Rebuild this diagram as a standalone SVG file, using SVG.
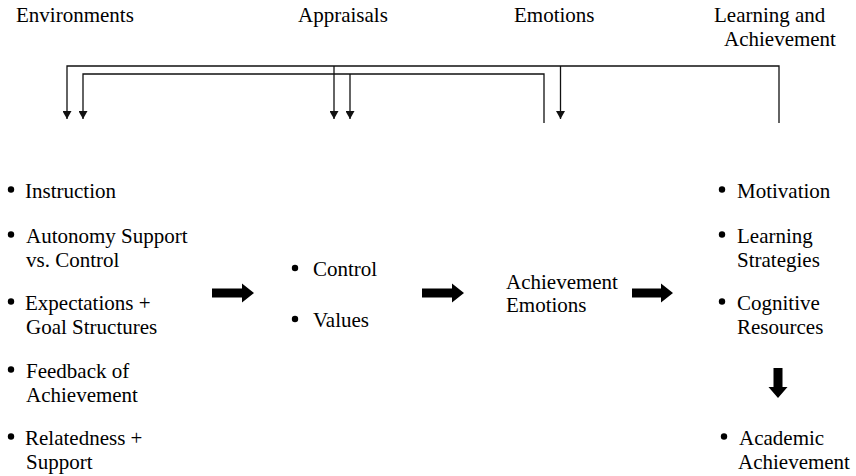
<svg xmlns="http://www.w3.org/2000/svg" width="856" height="476" viewBox="0 0 856 476" font-family="Liberation Serif, DejaVu Serif, serif" font-size="21">
<style>
text{fill:#000}
.fb{fill:none;stroke:#111;stroke-width:1.3}
.blk{fill:#000}
</style>
<defs>
<marker id="ah" markerUnits="userSpaceOnUse" markerWidth="8" markerHeight="9" refX="8" refY="4.5" orient="auto" viewBox="0 0 8 9">
<path d="M0,0 L8,4.5 L0,9 z" fill="#111"/>
</marker>
</defs>
<g id="headers">
<text x="16" y="22">Environments</text>
<text x="298" y="22">Appraisals</text>
<text x="514" y="22">Emotions</text>
<text x="714" y="22">Learning and</text>
<text x="724" y="46">Achievement</text>
</g>
<g id="connectors">
<polyline class="fb" points="779,123 779,66 67,66 67,119" marker-end="url(#ah)"/>
<line class="fb" x1="334" y1="66" x2="334" y2="119" marker-end="url(#ah)"/>
<line class="fb" x1="560.5" y1="66" x2="560.5" y2="119" marker-end="url(#ah)"/>
<polyline class="fb" points="544,123 544,74 83,74 83,119" marker-end="url(#ah)"/>
<line class="fb" x1="350" y1="74" x2="350" y2="119" marker-end="url(#ah)"/>
<polygon class="blk" points="212,288.5 242,288.5 242,283.5 254,293 242,302.5 242,297.5 212,297.5"/>
<polygon class="blk" points="422,288.5 452,288.5 452,283.5 464,293 452,302.5 452,297.5 422,297.5"/>
<polygon class="blk" points="632,288.5 661,288.5 661,283.5 673,293 661,302.5 661,297.5 632,297.5"/>
<polygon class="blk" points="773.5,368 782.5,368 782.5,387 787.5,387 778,398 768.5,387 773.5,387"/>
</g>
<g id="environments">
<circle class="blk" cx="11" cy="189.5" r="3.2"/>
<text x="25" y="198">Instruction</text>
<circle class="blk" cx="11" cy="234.5" r="3.2"/>
<text x="26" y="243">Autonomy Support</text>
<text x="26" y="267">vs. Control</text>
<circle class="blk" cx="11" cy="301.5" r="3.2"/>
<text x="25" y="310">Expectations +</text>
<text x="26" y="334">Goal Structures</text>
<circle class="blk" cx="11" cy="369.5" r="3.2"/>
<text x="26" y="378">Feedback of</text>
<text x="26" y="402">Achievement</text>
<circle class="blk" cx="11" cy="436.5" r="3.2"/>
<text x="25" y="445">Relatedness +</text>
<text x="26" y="469">Support</text>
</g>
<g id="appraisals">
<circle class="blk" cx="295" cy="268" r="3.2"/>
<text x="313" y="276">Control</text>
<circle class="blk" cx="295" cy="319" r="3.2"/>
<text x="313" y="327">Values</text>
</g>
<g id="emotions">
<text x="506" y="289">Achievement</text>
<text x="506" y="312">Emotions</text>
</g>
<g id="learning">
<circle class="blk" cx="722" cy="189.5" r="3.2"/>
<text x="737" y="198">Motivation</text>
<circle class="blk" cx="722" cy="234.5" r="3.2"/>
<text x="737" y="243">Learning</text>
<text x="737" y="267">Strategies</text>
<circle class="blk" cx="722" cy="301.5" r="3.2"/>
<text x="737" y="310">Cognitive</text>
<text x="737" y="334">Resources</text>
</g>
<g id="achievement">
<circle class="blk" cx="724" cy="436.5" r="3.2"/>
<text x="739" y="445">Academic</text>
<text x="738" y="469">Achievement</text>
</g>
</svg>
